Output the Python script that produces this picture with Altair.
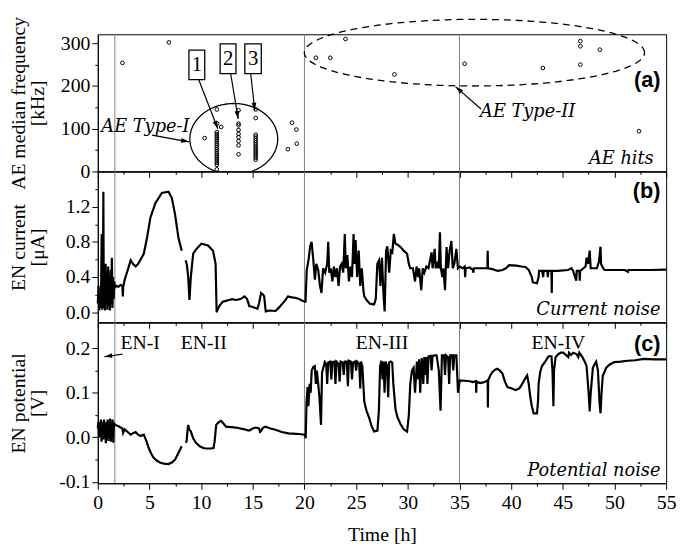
import json
import altair as alt
import numpy as np
import pandas as pd

# ---------------- data ----------------
# (a) AE hits: time [h], median frequency [kHz]
ae_time = [2.39, 6.88, 10.34, 11.52, 11.55, 11.94,
           11.52, 11.52, 11.52, 11.52, 11.52, 11.52, 11.52, 11.52, 11.52, 11.52,
           11.52, 11.52, 11.52, 11.52, 11.52, 11.52, 11.52, 11.52, 11.52,
           13.62, 13.62, 13.62, 13.62, 13.62, 13.62, 13.62, 13.62, 13.62,
           15.28, 15.28, 15.28, 15.28, 15.28, 15.28, 15.28, 15.28, 15.28, 15.28,
           15.28, 15.28, 15.28, 15.28, 15.28, 15.28,
           18.8, 19.22, 19.25, 18.4,
           21.1, 22.5, 23.97, 28.7, 35.5, 43.07, 46.7, 46.7, 46.7, 48.58, 52.37]
ae_freq = [254, 302, 78, 145, 112, 104,
           92, 87.5, 83, 78.5, 74, 69.5, 65, 60.5, 56, 51.5,
           47, 42.5, 38, 33.5, 29, 24.5, 20, 15.5, 5,
           143, 112, 108, 97, 88, 80, 71, 61, 40,
           145, 125, 86, 81.5, 77, 72.5, 68, 63.5, 59, 54.5,
           50, 45.5, 41, 36.5, 32, 27.5,
           114, 98, 65, 52,
           266, 266, 310, 227, 252, 242, 305, 293, 250, 285, 94]

# (b) EN current [uA]  (None = gap in the record)
cur_time = [0.00, 0.08, 0.15, 0.22, 0.30, 0.38, 0.44, 0.50, 0.54, 0.58, 0.64, 0.70, 0.76, 0.82,
            0.88, 0.94, 1.00, 1.06, 1.12, 1.18, 1.24, 1.30, 1.36, 1.42, 1.48, 1.54, 1.60, 1.65,
            1.80, 2.00, 2.20, 2.38, 2.42, 2.46, 2.60, 2.90, 3.18, 3.40, 3.66, 3.90, 4.14, 4.45,
            4.77, 5.09, 5.57, 6.20, 6.84, 7.16, 7.48, 7.80, 8.12, 8.30,
            8.50, 8.62, 8.75, 8.87, 9.00, 9.23, 9.55, 10.03, 10.67, 11.15, 11.40, 11.50, 11.60,
            11.80, 12.10, 12.40, 12.70, 13.00, 13.40, 13.80, 14.20, 14.45, 14.66, 15.00, 15.45,
            15.60, 15.80, 16.00, 16.10, 16.25, 16.60, 17.20, 17.50, 17.80, 18.10, 18.40, 18.80,
            19.10, 19.50, 19.80, 20.05,
            20.10, 20.22, 20.40, 20.55, 20.69, 20.85, 21.01, 21.15, 21.33, 21.50, 21.65, 21.80,
            22.00, 22.20, 22.30, 22.40, 22.55, 22.70, 22.85, 23.00, 23.15, 23.30, 23.45, 23.60,
            23.75, 23.90, 24.00, 24.15, 24.30, 24.45, 24.60, 24.75, 24.85, 24.95, 25.10, 25.25,
            25.40, 25.55, 25.70, 25.79, 26.00, 26.30, 26.60, 26.74, 26.90, 27.05, 27.22, 27.35,
            27.50, 27.65, 27.76, 27.90, 28.02, 28.20, 28.35, 28.50, 28.65, 28.80, 28.97, 29.30,
            29.60, 29.93, 30.10, 30.24, 30.50, 30.70, 30.85, 31.00, 31.10, 31.30, 31.45, 31.60,
            31.80, 32.00, 32.30, 32.40, 32.60, 32.70, 32.85, 33.00, 33.11, 33.20, 33.35, 33.45,
            33.60, 33.75, 33.90, 34.05, 34.22, 34.35, 34.50, 34.70, 34.85, 35.02,
            35.30, 35.50, 35.55, 35.60, 36.00, 36.30, 36.35, 36.40, 37.00, 37.70, 37.73, 37.76,
            38.20, 38.70, 39.16, 39.50, 39.80, 40.50, 41.00, 41.39, 41.71, 42.00, 42.10, 42.50,
            42.66, 42.70, 43.00, 43.10, 43.15, 43.50, 43.55, 43.60, 43.90, 43.93, 43.96, 44.50,
            45.50, 45.84, 46.00, 46.30, 46.35, 46.60, 46.64, 46.68, 47.20, 47.30, 47.45, 47.60,
            47.70, 48.30, 48.50, 48.65, 48.70, 48.90, 49.03, 50.00, 51.00, 51.30, 51.35, 52.50,
            53.50, 55.00]
cur_val = [0.10, 0.30, 0.02, 0.20, 0.05, 0.89, 0.03, 0.30, 1.37, 0.05, 0.40, 0.02, 0.55, 0.10,
           0.45, 0.03, 0.52, 0.08, 0.35, 0.02, 0.48, 0.10, 0.62, 0.05, 0.40, 0.15, 0.35, 0.28,
           0.30, 0.29, 0.31, 0.30, 0.18, 0.29, 0.37, 0.48, 0.59, 0.55, 0.52, 0.55, 0.60, 0.665,
           0.85, 1.075, 1.24, 1.355, 1.37, 1.30, 1.11, 0.85, 0.70, None,
           0.59, 0.54, 0.40, 0.14, 0.40, 0.665, 0.72, 0.78, 0.76, 0.70, 0.55, 0.00, 0.03,
           0.08, 0.12, 0.13, 0.14, 0.15, 0.14, 0.15, 0.18, 0.15, 0.07, 0.06, 0.04,
           0.10, 0.22, 0.20, 0.18, 0.01, 0.02, 0.015, 0.05, 0.09, 0.13, 0.18, 0.17,
           0.165, 0.15, 0.13, 0.12,
           0.12, 0.48, 0.60, 0.75, 0.80, 0.60, 0.37, 0.55, 0.48, 0.30, 0.22, 0.50,
           0.45, 0.55, 0.80, 0.45, 0.50, 0.35, 0.52, 0.40, 0.50, 0.30, 0.52, 0.55,
           0.45, 0.89, 0.50, 0.65, 0.35, 0.52, 0.40, 0.89, 0.55, 0.82, 0.40, 0.70,
           0.30, 0.50, 0.25, 0.18, 0.14, 0.10, 0.09, 0.09, 0.15, 0.55, 0.59, 0.30,
           0.62, 0.20, 0.01, 0.70, 0.75, 0.45, 0.70, 0.68, 0.89, 0.78, 0.77, 0.74,
           0.70, 0.665, 0.55, 0.50, 0.50, 0.35, 0.52, 0.40, 0.50, 0.25, 0.50, 0.45,
           0.52, 0.50, 0.68, 0.50, 0.72, 0.50, 0.55, 0.50, 0.91, 0.50, 0.40, 0.50,
           0.25, 0.74, 0.50, 0.70, 0.81, 0.50, 0.55, 0.72, 0.50, 0.52,
           0.50, 0.52, 0.40, 0.50, 0.51, 0.48, 0.45, 0.50, 0.50, 0.50, 0.70, 0.50,
           0.49, 0.47, 0.48, 0.50, 0.535, 0.53, 0.52, 0.515, 0.48, 0.40, 0.34, 0.33,
           0.40, 0.47, 0.47, 0.40, 0.47, 0.47, 0.40, 0.47, 0.47, 0.22, 0.47, 0.47,
           0.48, 0.50, 0.47, 0.36, 0.47, 0.47, 0.36, 0.47, 0.52, 0.62, 0.55, 0.70,
           0.50, 0.50, 0.58, 0.745, 0.55, 0.50, 0.48, 0.48, 0.48, 0.46, 0.48, 0.48,
           0.48, 0.485]

# (c) EN potential [V]
pot_time = [0.00, 0.06, 0.12, 0.18, 0.24, 0.30, 0.36, 0.42, 0.48, 0.54, 0.60, 0.66, 0.72, 0.78,
            0.84, 0.90, 0.96, 1.02, 1.08, 1.14, 1.20, 1.26, 1.32, 1.38, 1.44, 1.50, 1.56, 1.62,
            1.70, 2.00, 2.38, 2.45, 2.60, 2.90, 3.18, 3.45, 3.66, 3.90, 4.14, 4.45, 4.70, 4.93,
            5.20, 5.41, 5.70, 6.05, 6.40, 6.84, 7.20, 7.48, 7.80, 8.12, 8.30,
            8.50, 8.60, 8.70, 8.75, 8.85, 9.01, 9.23, 9.50, 9.87, 10.20, 10.50, 10.90, 11.20,
            11.30, 11.46, 11.70, 11.93, 12.20, 12.41, 12.90, 13.37, 13.80, 14.20, 14.64, 15.00,
            15.28, 15.60, 15.70, 15.76, 16.00, 16.23, 16.70, 17.19, 17.80, 18.46, 19.20, 20.05,
            20.12, 20.20, 20.30, 20.38, 20.50, 20.60, 20.70, 20.85, 21.00, 21.10, 21.20, 21.33,
            21.45, 21.60, 21.70, 21.97, 22.10, 22.20, 22.30, 22.50, 22.60, 22.70, 22.90, 23.00,
            23.10, 23.30, 23.40, 23.50, 23.70, 23.80, 23.90, 24.10, 24.20, 24.30, 24.50, 24.60,
            24.70, 24.90, 25.00, 25.10, 25.30, 25.40, 25.47, 25.60, 25.79, 26.00, 26.27, 26.50,
            26.74, 27.06, 27.20, 27.32, 27.45, 27.55, 27.65, 27.75, 27.86, 28.00, 28.10, 28.20,
            28.35, 28.49, 28.60, 28.81, 29.00, 29.29, 29.60, 29.93, 30.10, 30.24, 30.40, 30.56,
            30.70, 30.88, 31.00, 31.10, 31.20, 31.35, 31.50, 31.60, 31.70, 31.80, 31.90, 32.00,
            32.20, 32.30, 32.40, 32.60, 32.79, 33.00, 33.17, 33.30, 33.50, 33.60, 33.70, 33.90,
            34.00, 34.10, 34.30, 34.40, 34.50, 34.70, 34.86, 35.02,
            35.50, 36.00, 36.29, 36.60, 36.62, 36.65, 37.00, 37.40, 37.73, 37.75, 37.78, 38.00,
            38.20, 38.45, 38.68, 38.90, 39.16, 39.40, 39.64, 40.00, 40.43, 40.80, 41.07, 41.30,
            41.55, 41.70, 41.86, 42.00, 42.18, 42.50, 42.60, 42.66, 42.80, 42.98, 43.30, 43.62,
            43.90, 44.00, 44.09, 44.15, 44.30, 44.57, 44.80, 45.05, 45.30, 45.53, 45.60, 45.80,
            46.00, 46.32, 46.50, 46.60, 46.90, 47.12, 47.30, 47.50, 47.60, 47.70, 47.91, 48.10,
            48.23, 48.40, 48.55, 48.65, 48.75, 48.87, 49.00, 49.19, 49.50, 49.98, 50.60, 51.26,
            52.00, 52.85, 53.80, 55.00]
pot_val = [0.02, 0.035, 0.00, 0.03, 0.005, 0.04, -0.01, 0.025, 0.035, -0.005, 0.04, 0.00, 0.03, -0.013,
           0.035, 0.01, 0.04, -0.008, 0.03, 0.00, 0.042, -0.01, 0.03, 0.005, 0.04, -0.012, 0.025, 0.03,
           0.028, 0.025, 0.02, 0.01, 0.018, 0.012, 0.006, 0.010, 0.012, 0.006, 0.003, 0.006, -0.008, -0.024,
           -0.038, -0.046, -0.052, -0.057, -0.059, -0.06, -0.056, -0.05, -0.035, -0.02, None,
           -0.012, -0.008, 0.02, 0.028, 0.018, 0.013, -0.002, -0.012, -0.02, -0.024, -0.025, -0.025, -0.024,
           -0.01, 0.028, 0.034, 0.037, 0.030, 0.024, 0.023, 0.022, 0.020, 0.018, 0.015, 0.02,
           0.022, 0.020, 0.012, 0.013, 0.022, 0.024, 0.020, 0.017, 0.012, 0.009, 0.008, 0.006,
           -0.002, 0.08, 0.113, 0.07, 0.12, 0.10, 0.15, 0.158, 0.16, 0.12, 0.15, 0.12,
           0.09, 0.028, 0.145, 0.169, 0.165, 0.12, 0.168, 0.17, 0.13, 0.169, 0.17, 0.12,
           0.17, 0.165, 0.125, 0.17, 0.168, 0.14, 0.17, 0.17, 0.115, 0.172, 0.17, 0.13,
           0.168, 0.17, 0.15, 0.17, 0.165, 0.11, 0.17, 0.16, 0.08, 0.06, 0.043, 0.025,
           0.013, 0.015, 0.06, 0.16, 0.172, 0.13, 0.17, 0.10, 0.17, 0.16, 0.09, 0.168,
           0.17, 0.168, 0.12, 0.063, 0.045, 0.03, 0.018, 0.013, 0.05, 0.12, 0.15, 0.156,
           0.10, 0.17, 0.13, 0.175, 0.10, 0.178, 0.12, 0.18, 0.14, 0.18, 0.12, 0.182,
           0.183, 0.15, 0.183, 0.184, 0.184, 0.15, 0.06, 0.184, 0.184, 0.14, 0.184, 0.18,
           0.12, 0.184, 0.184, 0.15, 0.184, 0.184, 0.10, 0.128,
           0.127, 0.126, 0.124, 0.126, 0.10, 0.125, 0.122, 0.124, 0.128, 0.067, 0.128, 0.14,
           0.147, 0.152, 0.154, 0.15, 0.143, 0.125, 0.113, 0.11, 0.106, 0.11, 0.12, 0.13,
           0.139, 0.12, 0.09, 0.07, 0.054, 0.054, 0.08, 0.12, 0.145, 0.16, 0.17, 0.182,
           0.182, 0.15, 0.07, 0.15, 0.18, 0.187, 0.19, 0.19, 0.185, 0.18, 0.19, 0.185,
           0.19, 0.187, 0.18, 0.19, 0.18, 0.17, 0.16, 0.10, 0.058, 0.10, 0.156, 0.165,
           0.17, 0.15, 0.08, 0.054, 0.10, 0.139, 0.145, 0.156, 0.163, 0.169, 0.17, 0.172,
           0.173, 0.176, 0.175, 0.175]

# stage boundaries [h]
stage_lines = [1.65, 20, 35]

# axis ticks
x_ticks = [0, 2.5, 5, 7.5, 10, 12.5, 15, 17.5, 20, 22.5, 25, 27.5, 30, 32.5, 35, 37.5,
           40, 42.5, 45, 47.5, 50, 52.5, 55]
x_major = [0, 5, 10, 15, 20, 25, 30, 35, 40, 45, 50, 55]
ya_ticks = [0, 50, 100, 150, 200, 250, 300]
ya_major = [0, 100, 200, 300]
yb_ticks = [0, 0.2, 0.4, 0.6, 0.8, 1.0, 1.2, 1.4]
yb_major = [0, 0.4, 0.8, 1.2]
yc_ticks = [-0.1, -0.05, 0, 0.05, 0.1, 0.15, 0.2]
yc_major = [-0.1, 0, 0.1, 0.2]

# annotations (panel a)
box_labels = ["1", "2", "3"]
box_t1 = [8.82, 11.84, 14.23]
box_t2 = [10.35, 13.37, 15.82]
box_f1 = [215, 229, 229]
box_f2 = [284, 298.6, 298.6]

# arrows: id, tail (t, v), head (t, v), head angle (deg)
arrow_a_id = ["b1", "b2", "b3", "t1", "t2"]
arrow_a_t0 = [9.77, 12.86, 14.8, 5.25, 37.09]
arrow_a_v0 = [214.8, 228.6, 228.6, 84.8, 146]
arrow_a_t1 = [11.61, 13.59, 15.19, 8.82, 34.63]
arrow_a_v1 = [100, 123, 142.5, 69.3, 198]
arrow_a_ang = [158.8, 170.4, 173.9, 100.2, 311]

arrow_c_t0 = [2.39]
arrow_c_v0 = [0.187]
arrow_c_t1 = [0.63]
arrow_c_v1 = [0.181]
arrow_c_ang = [261]

SERIF = "Liberation Serif"
ITAL = "DejaVu Serif"
SANS = "Liberation Sans"
W = 576
ARROW = "M0,0L-0.6,2L0.6,2Z"


def series_df(ts, vs):
    rows, seg = [], 0
    for t, v in zip(ts, vs):
        if v is None:
            seg += 1
            continue
        rows.append({"t": t, "v": v, "seg": seg})
    return pd.DataFrame(rows)


def ellipse_df(cx, cy, rx, ry, n=160):
    th = np.linspace(0, 2 * np.pi, n)
    return pd.DataFrame({"t": cx + rx * np.cos(th), "v": cy + ry * np.sin(th), "o": np.arange(n)})


def arrow_dfs(ids, t0, v0, t1, v1, ang):
    shaft = pd.DataFrame({"id": ids * 2, "t": t0 + t1, "v": v0 + v1,
                          "o": [0] * len(ids) + [1] * len(ids)})
    head = pd.DataFrame({"t": t1, "v": v1, "ang": ang})
    return shaft, head


XS = alt.Scale(domain=[0, 55], nice=False, zero=False)


def x_enc(show):
    test = "indexof(%s, datum.value) >= 0" % json.dumps(x_major)
    ax = alt.Axis(values=x_ticks, title="Time [h]" if show else None, labels=show,
                  labelExpr=f"{test} ? format(datum.value, 'd') : ''",
                  tickSize={"condition": {"test": test, "value": 6}, "value": 3},
                  labelFlush=False, labelOverlap=False, titlePadding=12, labelPadding=4)
    return alt.X("t:Q", scale=XS, axis=ax)


def y_enc(domain, ticks, major, fmt, title):
    test = "indexof(%s, datum.value) >= 0" % json.dumps(major)
    ax = alt.Axis(values=ticks, title=title,
                  labelExpr=f"{test} ? replace(format(datum.value, '{fmt}'), '\u2212', '-') : ''",
                  tickSize={"condition": {"test": test, "value": 6}, "value": 3},
                  labelFlush=False, labelOverlap=False, minExtent=40, maxExtent=40,
                  titlePadding=11, titleLineHeight=19, labelPadding=2)
    return alt.Y("v:Q", scale=alt.Scale(domain=domain, nice=False, zero=False), axis=ax)


def text_layer(df, x, y, **kw):
    return alt.Chart(df).mark_text(color="black", baseline="middle", **kw).encode(
        x=x, y=y, text="label:N")


vl_df = pd.DataFrame({"t": stage_lines})

# ---------------- panel (a) ----------------
xa = x_enc(False)
ya = y_enc([0, 321], ya_ticks, ya_major, "d", ["AE median frequency", "[kHz]"])

rules_a = alt.Chart(vl_df).mark_rule(color="#808080", strokeWidth=1).encode(x=xa)
ell1 = alt.Chart(ellipse_df(13.16, 76, 4.25, 83)).mark_line(
    color="black", strokeWidth=1.3, clip=True).encode(x=xa, y=ya, order="o:Q")
ell2 = alt.Chart(ellipse_df(36.45, 278, 16.46, 78)).mark_line(
    color="black", strokeWidth=1.3, strokeDash=[7, 5]).encode(x=xa, y=ya, order="o:Q")
shaft_a, head_a = arrow_dfs(arrow_a_id, arrow_a_t0, arrow_a_v0, arrow_a_t1, arrow_a_v1, arrow_a_ang)
shafts_a = alt.Chart(shaft_a).mark_line(color="black", strokeWidth=1.2).encode(
    x=xa, y=ya, detail="id:N", order="o:Q")
heads_a = alt.Chart(head_a).mark_point(shape=ARROW, filled=True, color="black", size=64,
                                       opacity=1).encode(
    x=xa, y=ya, angle=alt.Angle("ang:Q", scale=None))
box_df = pd.DataFrame({"t": box_t1, "t2": box_t2, "v": box_f1, "v2": box_f2})
box_txt_df = pd.DataFrame({"label": box_labels,
                           "t": [(a + b) / 2 for a, b in zip(box_t1, box_t2)],
                           "v": [(a + b) / 2 for a, b in zip(box_f1, box_f2)]})
boxes = alt.Chart(box_df).mark_rect(fill="white", stroke="black", strokeWidth=1.3).encode(
    x=xa, x2="t2:Q", y=ya, y2="v2:Q")
box_txt = text_layer(box_txt_df, xa, ya, font=SERIF, fontSize=21, align="center")
pts = alt.Chart(pd.DataFrame({"t": ae_time, "v": ae_freq})).mark_point(
    shape="circle", filled=False, size=14, color="black", strokeWidth=1, opacity=1).encode(x=xa, y=ya)
txt_a_c = text_layer(pd.DataFrame({"t": [4.61, 41.6], "v": [104, 138], "label": ["AE Type-I", "AE Type-II"]}),
                     xa, ya, font=ITAL, fontSize=18, fontStyle="italic", align="center")
txt_a_r = text_layer(pd.DataFrame({"t": [53.8], "v": [30], "label": ["AE hits"]}),
                     xa, ya, font=ITAL, fontSize=18, fontStyle="italic", align="right")
lab_a = text_layer(pd.DataFrame({"t": [54.45], "v": [213], "label": ["(a)"]}),
                   xa, ya, font=SANS, fontSize=22, fontWeight="bold", align="right")

pa = alt.layer(rules_a, ell1, ell2, shafts_a, heads_a, boxes, box_txt, pts,
               txt_a_c, txt_a_r, lab_a).properties(width=W, height=139)

# ---------------- panel (b) ----------------
xb = x_enc(False)
yb = y_enc([-0.115, 1.6], yb_ticks, yb_major, ".1f", ["EN current", "[\u03bcA]"])
rules_b = alt.Chart(vl_df).mark_rule(color="#808080", strokeWidth=1).encode(x=xb)
line_b = alt.Chart(series_df(cur_time, cur_val)).mark_line(
    color="black", strokeWidth=2.2).encode(x=xb, y=yb, detail="seg:N")
txt_b = text_layer(pd.DataFrame({"t": [54.45], "v": [0.02], "label": ["Current noise"]}),
                   xb, yb, font=ITAL, fontSize=18, fontStyle="italic", align="right")
lab_b = text_layer(pd.DataFrame({"t": [54.45], "v": [1.374], "label": ["(b)"]}),
                   xb, yb, font=SANS, fontSize=22, fontWeight="bold", align="right")
pb = alt.layer(rules_b, line_b, txt_b, lab_b).properties(width=W, height=153)

# ---------------- panel (c) ----------------
xc = x_enc(True)
yc = y_enc([-0.103, 0.258], yc_ticks, yc_major, ".1f", ["EN potential", "[V]"])
rules_c = alt.Chart(vl_df).mark_rule(color="#808080", strokeWidth=1).encode(x=xc)
line_c = alt.Chart(series_df(pot_time, pot_val)).mark_line(
    color="black", strokeWidth=2.2).encode(x=xc, y=yc, detail="seg:N")
shaft_c, head_c = arrow_dfs(["e1"], arrow_c_t0, arrow_c_v0, arrow_c_t1, arrow_c_v1, arrow_c_ang)
shafts_c = alt.Chart(shaft_c).mark_line(color="black", strokeWidth=1.2).encode(
    x=xc, y=yc, detail="id:N", order="o:Q")
heads_c = alt.Chart(head_c).mark_point(shape=ARROW, filled=True, color="black", size=64,
                                       opacity=1).encode(
    x=xc, y=yc, angle=alt.Angle("ang:Q", scale=None))
txt_c_en = text_layer(pd.DataFrame({"t": [4.1, 10.25, 27.5, 44.57], "v": [0.212] * 4,
                                    "label": ["EN-I", "EN-II", "EN-III", "EN-IV"]}),
                      xc, yc, font=SERIF, fontSize=20, align="center")
txt_c = text_layer(pd.DataFrame({"t": [54.45], "v": [-0.075], "label": ["Potential noise"]}),
                   xc, yc, font=ITAL, fontSize=18, fontStyle="italic", align="right")
lab_c = text_layer(pd.DataFrame({"t": [54.45], "v": [0.21], "label": ["(c)"]}),
                   xc, yc, font=SANS, fontSize=22, fontWeight="bold", align="right")
pc = alt.layer(rules_c, line_c, shafts_c, heads_c, txt_c_en, txt_c, lab_c).properties(width=W, height=163)

chart = alt.vconcat(pa, pb, pc, spacing=0, bounds="flush").properties(
    padding={"left": 0, "right": 0, "top": 4, "bottom": 0}
).configure_view(stroke="black", strokeWidth=1).configure_axis(
    domainColor="black", domainWidth=1, tickColor="black", tickWidth=1, grid=False,
    labelColor="black", labelFont=SERIF, labelFontSize=20,
    titleColor="black", titleFont=SERIF, titleFontSize=20, titleFontWeight="normal"
)

chart.save("out.html", embed_options={"renderer": "svg", "actions": False})
